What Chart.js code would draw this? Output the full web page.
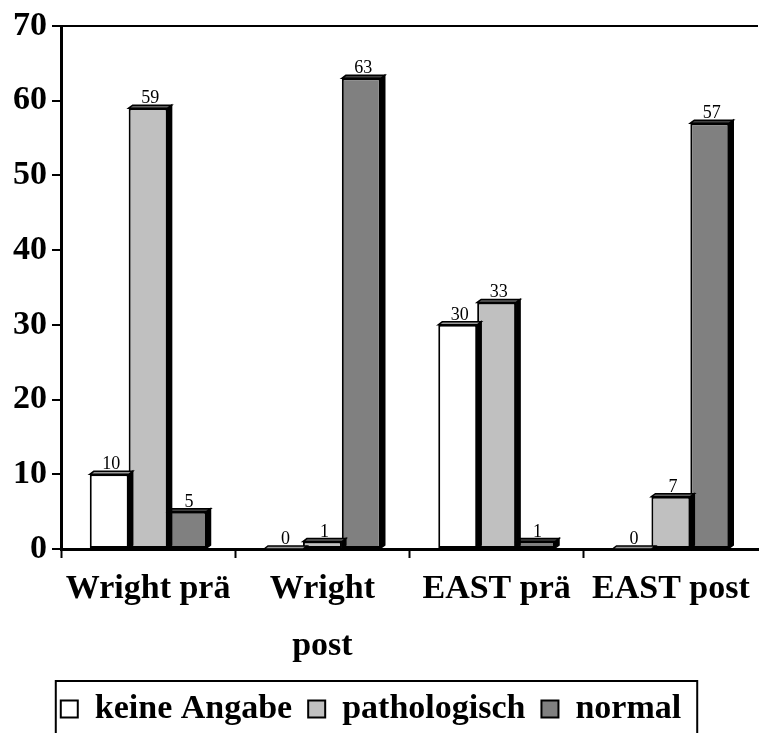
<!DOCTYPE html>
<html><head><meta charset="utf-8">
<script src="https://cdn.jsdelivr.net/npm/chart.js@4.4.0/dist/chart.umd.min.js"></script>
<style>html,body{margin:0;padding:0;background:#fff}#wrap{width:759px;height:733px}</style>
</head><body><div id="wrap"><canvas id="c" width="759" height="733"></canvas></div>
<script>
const categories = [['Wright prä'], ['Wright', 'post'], ['EAST prä'], ['EAST post']];
const seriesNames = ['keine Angabe', 'pathologisch', 'normal'];
const keineAngabe = [10, 0, 30, 0];
const pathologisch = [59, 1, 33, 7];
const normal = [5, 63, 1, 57];
const yTickValues = [0, 10, 20, 30, 40, 50, 60, 70];

const FONT = 'Liberation Serif, Times New Roman, serif';
const D = 4, DY = 3;

const bar3d = {
  id: 'bar3d',
  afterDatasetDraw(chart, args) {
    const meta = args.meta;
    const ds = chart.data.datasets[args.index];
    const ctx = chart.ctx;
    meta.data.forEach((bar) => {
      const p = bar.getProps(['x', 'y', 'base', 'width'], true);
      const x1 = p.x - p.width / 2, x2 = p.x + p.width / 2, y = p.y, base = p.base;
      ctx.save();
      ctx.lineJoin = 'miter';
      ctx.strokeStyle = '#000';
      ctx.lineWidth = 1.5;
      ctx.beginPath();
      ctx.moveTo(x2, y); ctx.lineTo(x2 + D, y - DY); ctx.lineTo(x2 + D, base - DY); ctx.lineTo(x2, base);
      ctx.closePath();
      ctx.fillStyle = ds.sideColor; ctx.fill(); ctx.stroke();
      ctx.beginPath();
      ctx.moveTo(x1, y); ctx.lineTo(x1 + D, y - DY); ctx.lineTo(x2 + D, y - DY); ctx.lineTo(x2, y);
      ctx.closePath();
      ctx.fillStyle = ds.topColor; ctx.fill(); ctx.stroke();
      ctx.restore();
    });
  },
  afterDatasetsDraw(chart) {
    const ctx = chart.ctx;
    ctx.save();
    ctx.font = '18px ' + FONT;
    ctx.fillStyle = '#000';
    ctx.textAlign = 'center';
    ctx.textBaseline = 'alphabetic';
    chart.data.datasets.forEach((ds, di) => {
      chart.getDatasetMeta(di).data.forEach((bar, i) => {
        const p = bar.getProps(['x', 'y'], true);
        ctx.fillText(String(ds.data[i]), p.x + D / 2, p.y - DY - 2);
      });
    });
    ctx.restore();
  }
};

const legendFrame = {
  id: 'legendFrame',
  afterLayout(chart) {
    const lg = chart.legend;
    if (!lg) return;
    lg.left -= 8; lg.right -= 8;
    lg.top += 3; lg.bottom += 3;
  },
  afterDraw(chart) {
    const hb = chart.legend && chart.legend.legendHitBoxes;
    if (!hb || !hb.length) return;
    const first = hb[0], last = hb[hb.length - 1];
    const ctx = chart.ctx;
    ctx.save();
    ctx.strokeStyle = '#000';
    ctx.lineWidth = 2;
    const l = first.left - 5, r = last.left + last.width + 16, t = first.top - 11;
    ctx.strokeRect(l, t, r - l, chart.height - t + 20);
    ctx.restore();
  }
};

new Chart(document.getElementById('c'), {
  type: 'bar',
  data: {
    labels: categories,
    datasets: [
      { label: seriesNames[0], data: keineAngabe, backgroundColor: '#ffffff', topColor: '#9a9a9a', sideColor: '#000000' },
      { label: seriesNames[1], data: pathologisch, backgroundColor: '#c0c0c0', topColor: '#606060', sideColor: '#000000' },
      { label: seriesNames[2], data: normal, backgroundColor: '#808080', topColor: '#404040', sideColor: '#000000' }
    ].map(d => Object.assign(d, { borderColor: '#000', borderWidth: 2, borderSkipped: false, barPercentage: 1, categoryPercentage: 0.67 }))
  },
  options: {
    responsive: false,
    animation: false,
    layout: { padding: { top: 26, right: 1, left: 0, bottom: 0 } },
    plugins: {
      tooltip: { enabled: false },
      legend: {
        position: 'bottom',
        labels: {
          font: { family: FONT, size: 34, weight: 'bold' },
          color: '#000',
          boxWidth: 17, boxHeight: 17,
          padding: 16
        }
      }
    },
    scales: {
      x: {
        grid: { offset: true, color: 'transparent', tickColor: (c) => (c.tick ? '#000' : 'transparent'), tickLength: 9, tickWidth: 2, drawOnChartArea: false },
        border: { display: true, color: '#000', width: 3 },
        ticks: { font: { family: FONT, size: 34, weight: 'bold', lineHeight: 1.7 }, color: '#000', padding: 2, maxRotation: 0, autoSkip: false },
        afterFit(s) { s.height = 124; }
      },
      y: {
        min: 0, max: 70,
        afterBuildTicks(s) { s.ticks = yTickValues.map(v => ({ value: v })); },
        grid: { color: (c) => (c.tick && c.tick.value === 70 ? '#000' : 'transparent'), lineWidth: 2, tickColor: '#000', tickLength: 9, tickWidth: 2 },
        border: { display: true, color: '#000', width: 3 },
        ticks: { font: { family: FONT, size: 34, weight: 'bold' }, color: '#000', padding: 5 },
        afterFit(s) { s.width = 61; }
      }
    }
  },
  plugins: [bar3d, legendFrame]
});
</script>
</body></html>
